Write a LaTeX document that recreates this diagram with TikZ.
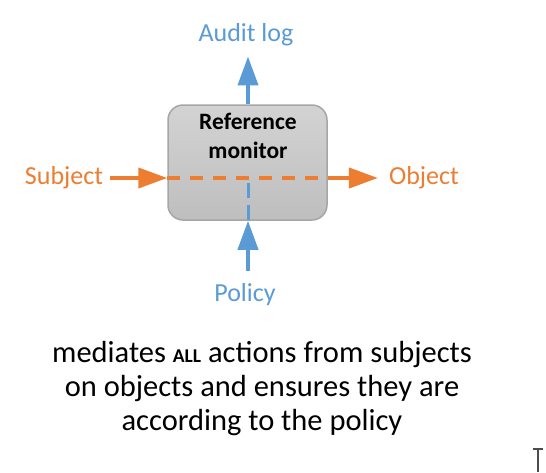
\documentclass[tikz,border=0pt]{standalone}
\usepackage{fontspec}
\setmainfont{Carlito}
\usetikzlibrary{arrows.meta}
\definecolor{ablue}{HTML}{5B9BD5}
\definecolor{aorange}{HTML}{ED7D31}
\definecolor{boxline}{HTML}{A6A6A6}
\definecolor{boxtop}{HTML}{D3D3D3}
\definecolor{boxbot}{HTML}{BEBEBE}
\tikzset{
  lbl/.style={font=\fontsize{26}{30}\selectfont},
  rmbox/.style={rectangle, rounded corners=15pt, draw=boxline, line width=1.5pt,
    top color=boxtop, bottom color=boxbot, minimum width=159pt, minimum height=115pt},
  bline/.style={draw=ablue, line width=4pt},
  oline/.style={draw=aorange, line width=4pt},
  tip/.style={-{Triangle[length=29pt,width=20pt]}},
}
\begin{document}
\begin{tikzpicture}[x=1pt,y=-1pt]
\useasboundingbox (0,0) rectangle (546,472);
\node[rmbox] (box) at (247.5,162.5) {};
\node[font=\bfseries\fontsize{23.5}{28.5}\selectfont, align=center] (title) at (248,136) {Reference\\monitor};
\node[lbl, text=ablue, inner sep=10pt] (audit) at (246,35) {Audit log};
\node[lbl, text=ablue, inner sep=13pt] (policy) at (245,295) {Policy};
\node[lbl, text=aorange, inner sep=7pt] (subj) at (64,178) {Subject};
\node[lbl, text=aorange, inner sep=11pt] (obj) at (424,178) {Object};
\coordinate (cross) at (248,178);
% blue
\draw[draw=ablue, line width=3pt, dash pattern=on 15pt off 7pt] (248,183) -- (box.south -| cross);
\draw[bline, tip] (box.north -| cross) -- (audit.south -| cross);
\draw[bline, tip] (policy.north -| cross) -- (box.south -| cross);
% orange
\draw[oline, tip] (subj.east) -- (box.west |- subj);
\draw[draw=aorange, line width=4pt, dash pattern=on 13pt off 10pt] (box.west |- subj) -- (box.east |- subj);
\draw[oline, tip] (box.east |- subj) -- (obj.west);
% bottom text
\node[font=\fontsize{30.5}{34}\selectfont, align=center] (desc) at (262,389)
  {mediates {\bfseries\fontsize{19.5}{22}\selectfont ALL} actions from subjects\\on objects and ensures they are\\according to the policy};
% cursor glyph
\draw[draw=black!70, line width=1.5pt] (533,449) -- (543,449);
\draw[draw=black!70, line width=2pt] (538,449) -- (538,472);
\end{tikzpicture}
\end{document}
